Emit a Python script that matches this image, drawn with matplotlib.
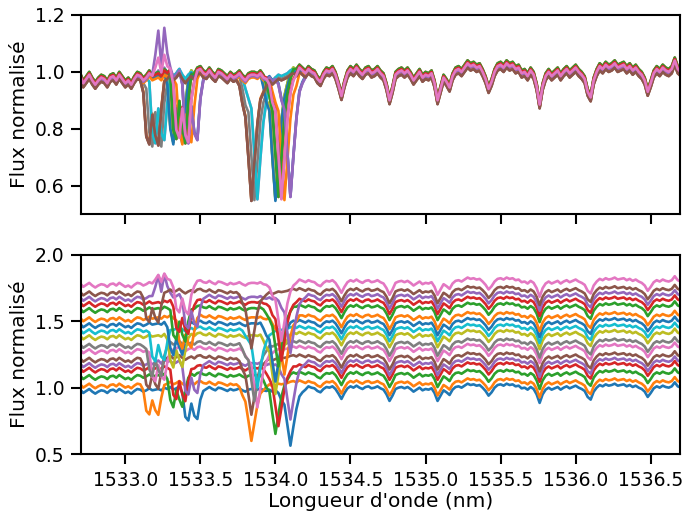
import numpy as np
import matplotlib
matplotlib.use("Agg")
import matplotlib.pyplot as plt

# ---------------- data ----------------
wl_start = 1532.66
wl_step = 0.02

# common (telluric / fixed) spectrum, one value per 0.02 nm
telluric_flux = [
    0.98, 0.97, 0.985, 0.96, 0.975, 0.99, 0.97, 0.955, 0.97, 0.98,
    0.975, 0.96, 0.98, 0.985, 0.97, 0.99, 0.975, 0.96, 0.97, 0.955,
    0.975, 0.99, 0.985, 0.97, 0.98, 0.995, 0.98, 0.985, 0.99, 0.98,
    1.0, 0.99, 1.005, 0.985, 0.995, 1.01, 0.99, 0.975, 0.99, 1.0,
    0.985, 1.005, 1.01, 0.995, 0.99, 1.005, 0.99, 0.98, 1.0, 0.995,
    0.985, 0.975, 0.99, 0.98, 0.985, 0.995, 0.98, 0.97, 0.985, 0.99,
    0.99, 0.985, 0.995, 0.98, 0.975, 0.985, 0.97, 0.98, 0.99, 0.985,
    0.99, 0.995, 1.005, 1.01, 1.0, 1.015, 1.005, 0.995, 1.01, 1.0,
    0.995, 0.975, 0.965, 0.99, 1.005, 1.0, 1.01, 0.99, 0.955, 0.915,
    0.96, 0.995, 1.01, 1.0, 1.015, 1.0, 0.99, 1.005, 1.01, 0.995,
    1.0, 1.01, 0.995, 0.985, 0.95, 0.90, 0.94, 0.99, 1.0, 1.005,
    0.995, 1.005, 0.99, 0.97, 0.985, 1.0, 0.98, 0.99, 0.985, 0.995,
    0.96, 0.90, 0.94, 0.98, 0.965, 0.945, 0.985, 1.005, 1.01, 1.0,
    1.015, 1.03, 1.02, 1.025, 1.015, 1.02, 1.0, 0.975, 0.94, 0.965,
    1.0, 1.02, 1.025, 1.015, 1.03, 1.02, 1.025, 1.01, 1.015, 0.995,
    1.0, 0.985, 1.005, 0.99, 0.95, 0.885, 0.95, 0.985, 1.0, 0.985,
    0.995, 1.005, 0.985, 1.0, 1.01, 0.995, 1.005, 1.015, 1.0, 0.99,
    0.975, 0.93, 0.91, 0.97, 1.0, 1.02, 1.01, 1.025, 1.015, 1.02,
    1.03, 1.015, 1.02, 1.025, 1.01, 1.02, 1.005, 1.015, 1.0, 0.99,
    0.97, 0.93, 0.96, 0.995, 1.01, 1.0, 1.015, 1.005, 1.0, 1.01,
    1.04, 1.01, 1.0, 1.01,
]

# moving stellar lines (relative to deep-line position), one value per 0.02 nm
stellar_first_index = -37
stellar_flux = [
    1.0, 0.97, 0.80, 0.76, 0.88, 0.80, 0.76, 0.90, 0.98,
    1.0, 1.0, 1.0, 1.0, 1.0, 1.0, 1.0, 1.0, 1.0, 1.0, 1.0, 1.0,
    1.0, 1.0, 1.0, 1.0, 1.0, 1.0, 1.0, 1.0, 1.0, 1.0, 1.0, 1.0,
    0.97, 0.92, 0.88, 0.72, 0.56, 0.70, 0.84, 0.92, 0.96, 0.99, 1.0,
]

# residual emission spikes near 1533.2 nm (fixed wavelength)
spike_start_wl = 1533.18
spike_profile = [0.1, 0.5, 1.0, 0.3, 1.0, 0.5, 0.1]

# per-spectrum values
deep_line_wl = [1534.10, 1533.84, 1534.00, 1534.02, 1534.10, 1533.84, 1533.88,
                1533.86, 1534.00, 1533.88, 1534.00, 1534.06, 1534.02, 1534.04,
                1534.10, 1533.84, 1534.04]
spike_amp = [0, 0, 0, 0, 0.02, 0, 0, 0, 0, 0, 0, 0, 0, 0, 0.16, 0, 0.06]
level = [1.0, 0.99, 1.005, 1.01, 0.995, 0.985, 1.0, 0.99, 1.005, 1.0,
         0.995, 0.99, 1.01, 1.005, 0.995, 0.985, 1.0]
offsets = [0.0, 0.05, 0.10, 0.15, 0.20, 0.25, 0.30, 0.35, 0.40, 0.45,
           0.50, 0.55, 0.60, 0.65, 0.70, 0.75, 0.80]

xticks = [1533.0, 1533.5, 1534.0, 1534.5, 1535.0, 1535.5, 1536.0, 1536.5]
top_yticks = [0.6, 0.8, 1.0, 1.2]
bot_yticks = [0.5, 1.0, 1.5, 2.0]

# ---------------- build spectra ----------------
tell = np.array(telluric_flux)
n = len(tell)
wl = wl_start + wl_step * np.arange(n)
spectra = []
for d, a, lv in zip(deep_line_wl, spike_amp, level):
    f = tell * lv
    k0 = int(round((d - wl_start) / wl_step))
    for j, v in enumerate(stellar_flux):
        k = k0 + stellar_first_index + j
        if 0 <= k < n:
            f[k] *= v
    ks = int(round((spike_start_wl - wl_start) / wl_step))
    for j, v in enumerate(spike_profile):
        f[ks + j] += a * v
    spectra.append(f)

# ---------------- plot ----------------
plt.rcParams['font.family'] = ['DejaVu Sans']
fig = plt.figure(figsize=(6.82, 5.12), dpi=100)
ax1 = fig.add_axes([81 / 682, 1 - 214 / 512, 599 / 682, 199 / 512])
ax2 = fig.add_axes([81 / 682, 1 - 454 / 512, 599 / 682, 199 / 512], sharex=ax1)

for f in spectra:
    ax1.plot(wl, f, lw=1.9)
for f, off in zip(spectra, offsets):
    ax2.plot(wl, f + off, lw=1.9)

ax1.set_xlim(1532.705, 1536.695)
ax1.set_ylim(0.5, 1.2)
ax2.set_ylim(0.5, 2.0)
ax1.set_yticks(top_yticks)
ax2.set_yticks(bot_yticks)
ax2.set_xticks(xticks)
ax1.tick_params(labelbottom=False)

for ax in (ax1, ax2):
    ax.tick_params(direction='out', length=7.5, width=1.5, labelsize=13.5, pad=4.5)
    for s in ax.spines.values():
        s.set_linewidth(1.5)
    ax.set_ylabel('Flux normalisé', fontsize=14.5)
ax2.set_xlabel("Longueur d'onde (nm)", fontsize=14.5, labelpad=1.5)

fig.savefig('out.png', dpi=100)
